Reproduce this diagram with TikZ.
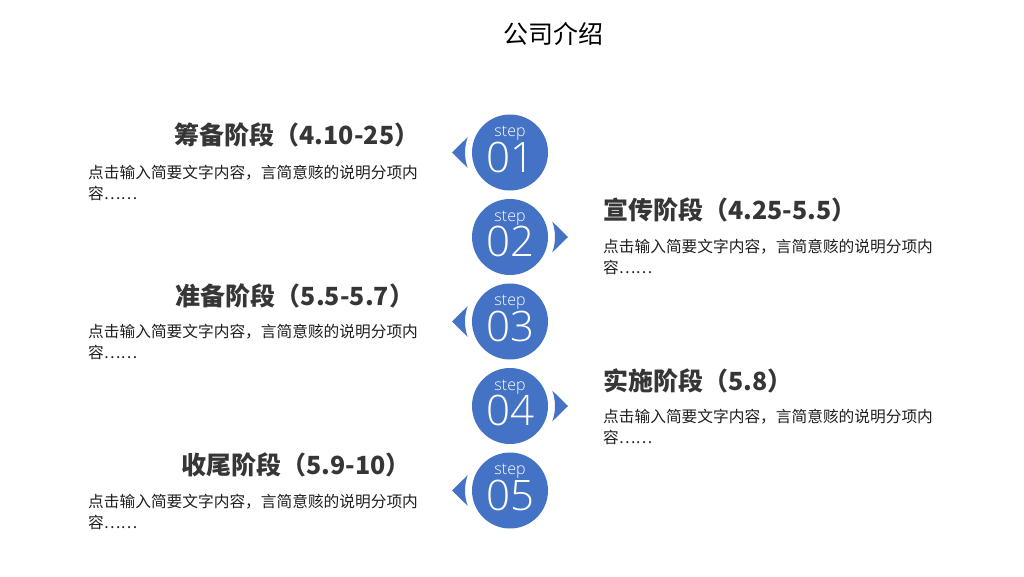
\documentclass[tikz,border=0pt]{standalone}
\usepackage{fontspec}
\usetikzlibrary{calc}
\newfontfamily\cjk{Noto Sans CJK SC}
\newfontfamily\stepfont{Open Sans Light}
\definecolor{stepblue}{HTML}{4472C4}
\definecolor{headgray}{HTML}{363636}
\definecolor{bodygray}{HTML}{1F1F1F}
\tikzset{
  stepcircle/.style={circle, fill=stepblue, minimum size=76pt, inner sep=0pt},
  steplabel/.style={text=white, font=\stepfont\fontsize{16}{16}\selectfont, inner sep=0pt, anchor=base},
  stepnum/.style={text=white, font=\stepfont\fontsize{42}{42}\selectfont, inner sep=0pt, anchor=base},
  pointer/.style={fill=stepblue, draw=none},
  headtext/.style={text=headgray, font=\cjk\bfseries\fontsize{25}{30}\selectfont, inner sep=0pt, anchor=base},
  bodytext/.style={text=bodygray, font=\cjk\fontsize{15.7}{21}\selectfont, inner sep=0pt, align=left, anchor=base west},
}
\begin{document}
\begin{tikzpicture}[x=1pt,y=1pt]
\useasboundingbox (0,0) rectangle (1024,-576);
\fill[white] (0,0) rectangle (1024,-576);
% title
\node[text=black, font=\cjk\fontsize{25}{30}\selectfont, inner sep=0pt, anchor=base] (title) at (553,-43.5) {公司介绍};
% circles
\foreach \i/\y in {1/152.5,2/237,3/321.5,4/406,5/490.5}{
  \node[stepcircle] (c\i) at (510,-\y) {};
  \node[steplabel] (s\i) at ($(c\i)+(0,16)$) {step};
  \node[stepnum] (n\i) at ($(c\i)+(0,-19.5)$) {0\i};
}
% pointers
\foreach \i in {1,3,5}{
  \fill[pointer] ($(c\i)+(-58,0)$) -- ($(c\i)+(160:45)$) arc[start angle=160, end angle=200, radius=45] -- cycle;
}
\foreach \i in {2,4}{
  \fill[pointer] ($(c\i)+(58,0)$) -- ($(c\i)+(20:45)$) arc[start angle=20, end angle=-20, radius=45] -- cycle;
}
% headings
\node[headtext] (h1) at (297,-144.5) {筹备阶段（4.10-25）};
\node[headtext,anchor=base west] (h2) at (603,-219.5) {宣传阶段（4.25-5.5）};
\node[headtext] (h3) at (295,-305.5) {准备阶段（5.5-5.7）};
\node[headtext,anchor=base west] (h4) at (603,-390.5) {实施阶段（5.8）};
\node[headtext] (h5) at (296,-474.5) {收尾阶段（5.9-10）};
% bodies (anchor is the baseline of the last line)
\node[bodytext] (b1) at (88,-199) {点击输入简要文字内容，言简意赅的说明分项内\\容……};
\node[bodytext] (b2) at (603,-273) {点击输入简要文字内容，言简意赅的说明分项内\\容……};
\node[bodytext] (b3) at (88,-358) {点击输入简要文字内容，言简意赅的说明分项内\\容……};
\node[bodytext] (b4) at (603,-443) {点击输入简要文字内容，言简意赅的说明分项内\\容……};
\node[bodytext] (b5) at (88,-528) {点击输入简要文字内容，言简意赅的说明分项内\\容……};
\end{tikzpicture}
\end{document}
